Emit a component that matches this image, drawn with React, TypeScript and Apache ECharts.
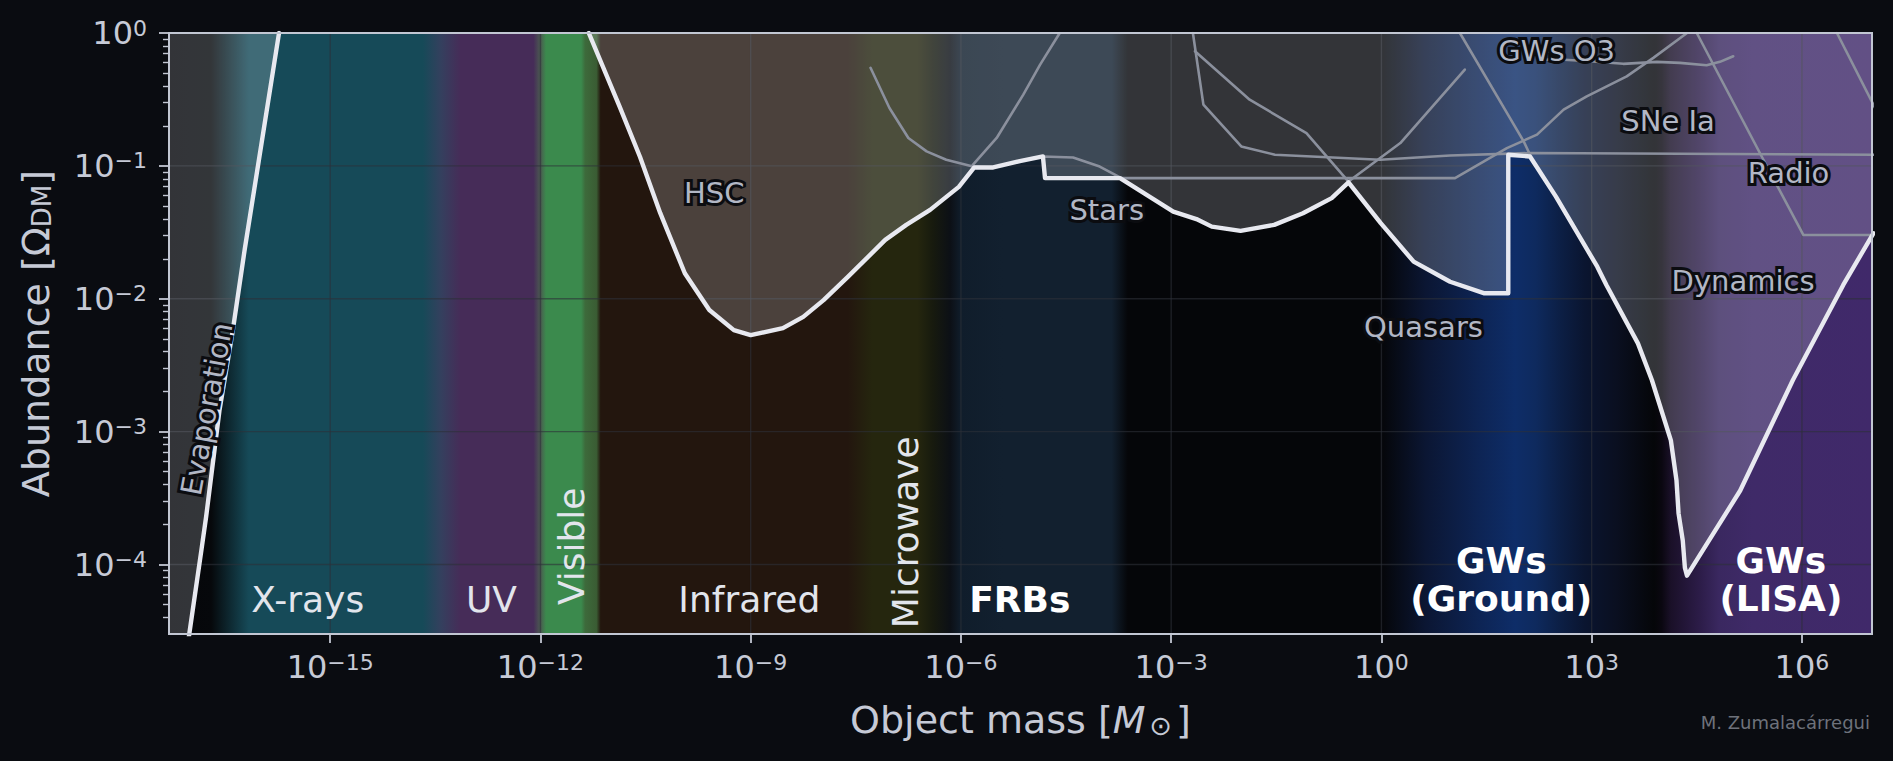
import React, { useEffect, useRef } from 'react';
import * as echarts from 'echarts';

// ---------- axis ranges (log10 units) ----------
const X_MIN = -17.3; // log10(5e-18 M_sun)
const X_MAX = 7;     // log10(1e7 M_sun)
const Y_MIN = Math.log10(3e-5);
const Y_MAX = 0;

// ---------- tick positions (log10) ----------
const xMajorExps = [-15, -12, -9, -6, -3, 0, 3, 6];
const yMajorExps = [-4, -3, -2, -1, 0];
const yMinorExps: number[] = [];
for (let n = -5; n < 0; n++) {
  for (let k = 2; k <= 9; k++) {
    const v = n + Math.log10(k);
    if (v > Y_MIN && v < Y_MAX) yMinorExps.push(v);
  }
}

// ---------- combined bound (thick white), [log10 M, log10 Omega] ----------
const evaporationBound = [
  [-17.3, -5.6], [-17.01, -4.52], [-16.84, -3.9], [-16.77, -3.64], [-16.58, -2.84],
  [-16.39, -2.24], [-16.22, -1.63], [-15.73, 0.0],
];
const combinedBound = [
  [-11.31, 0.0], [-10.87, -0.554], [-10.58, -0.931], [-10.29, -1.356], [-9.94, -1.808],
  [-9.59, -2.085], [-9.24, -2.236], [-9.0, -2.274], [-8.54, -2.221], [-8.25, -2.136],
  [-7.96, -2.01], [-7.61, -1.834], [-7.08, -1.557], [-6.78, -1.444], [-6.44, -1.331],
  [-6.03, -1.158], [-5.81, -1.012], [-5.54, -1.012], [-5.16, -0.964], [-4.83, -0.929],
  [-4.8, -1.092], [-3.73, -1.092], [-3.35, -1.218], [-2.97, -1.344], [-2.64, -1.40],
  [-2.42, -1.457], [-2.01, -1.489], [-1.53, -1.444], [-1.12, -1.356], [-0.71, -1.243],
  [-0.47, -1.124], [-0.01, -1.431], [0.46, -1.721], [0.98, -1.872], [1.47, -1.959],
  [1.81, -1.959], [1.81, -0.916], [2.12, -0.929], [2.49, -1.231], [3.08, -1.759],
  [3.21, -1.896], [3.66, -2.336], [3.86, -2.613], [4.13, -3.066], [4.21, -3.366],
  [4.24, -3.616], [4.3, -3.82], [4.33, -4.023], [4.36, -4.084], [5.12, -3.443],
  [5.87, -2.613], [6.59, -1.896], [7.02, -1.507],
];

// ---------- individual constraints (thin grey) ----------
const lensingA = [
  [-7.29, -0.262], [-7.02, -0.564], [-6.75, -0.79], [-6.49, -0.891], [-6.21, -0.954],
  [-5.83, -1.005], [-5.54, -1.012], [-5.16, -0.964], [-4.83, -0.929], [-4.4, -0.937],
  [-4.02, -1.005], [-3.73, -1.087],
];
const hscUpper = [[-5.83, -0.992], [-5.49, -0.79], [-5.11, -0.464], [-4.87, -0.238], [-4.59, 0.0]];
const starsFlat = [
  [-4.8, -1.092], [1.05, -1.092], [1.79, -0.866], [2.22, -0.765], [2.6, -0.577],
  [2.93, -0.477], [3.5, -0.326], [3.88, -0.187], [4.36, 0.0],
];
const lineD = [
  [-2.69, 0.0], [-2.54, -0.539], [-2.0, -0.854], [-1.52, -0.916], [-0.02, -0.954],
  [0.98, -0.922], [2.12, -0.903], [7.05, -0.916],
];
const quasarsUpper = [[-2.66, -0.137], [-1.88, -0.502], [-1.07, -0.753], [-0.47, -1.118]];
const lineG = [[-0.47, -1.118], [0.27, -0.828], [1.19, -0.275]];
const lineH = [[1.12, 0.0], [2.03, -0.816], [2.12, -0.916]];
const gwsO3 = [
  [2.34, -0.2], [2.55, -0.2], [2.97, -0.213], [3.45, -0.232], [3.93, -0.217],
  [4.26, -0.225], [4.64, -0.243], [4.83, -0.217], [5.02, -0.175],
];
const radio = [[4.5, 0.0], [5.4, -0.903], [6.02, -1.52], [7.05, -1.52]];
const lineL = [[6.5, 0.0], [7.05, -0.57]];
const thinLines = [lensingA, hscUpper, starsFlat, lineD, quasarsUpper, lineG, lineH, gwsO3, radio, lineL];

// ---------- labels ----------
const constraintLabels = [
  { text: 'Evaporation', m: -16.76, f: -2.83, rot: 79.4 },
  { text: 'HSC', m: -9.52, f: -1.205, rot: 0 },
  { text: 'Stars', m: -3.92, f: -1.331, rot: 0 },
  { text: 'Quasars', m: 0.6, f: -2.211, rot: 0 },
  { text: 'GWs O3', m: 2.5, f: -0.137, rot: 0 },
  { text: 'SNe Ia', m: 4.09, f: -0.665, rot: 0 },
  { text: 'Radio', m: 5.81, f: -1.054, rot: 0 },
  { text: 'Dynamics', m: 5.16, f: -1.869, rot: 0 },
];
const bandLabels = [
  { text: 'X-rays', m: -15.32, f: -4.265, rot: 0, bold: false },
  { text: 'UV', m: -12.7, f: -4.265, rot: 0, bold: false },
  { text: 'Visible', m: -11.56, f: -3.863, rot: 90, bold: false },
  { text: 'Infrared', m: -9.02, f: -4.265, rot: 0, bold: false },
  { text: 'Microwave', m: -6.79, f: -3.757, rot: 90, bold: false },
  { text: 'FRBs', m: -5.16, f: -4.265, rot: 0, bold: true },
  { text: 'GWs\n(Ground)', m: 1.71, f: -4.115, rot: 0, bold: true },
  { text: 'GWs\n(LISA)', m: 5.7, f: -4.115, rot: 0, bold: true },
];

// ---------- spectrum background colours, [log10 M, colour] ----------
const spectrumStops: [number, string][] = [
  [-17.3, '#050609'], [-16.7, '#06080b'], [-16.16, '#164a58'], [-13.68, '#164a58'],
  [-13.42, '#34405e'], [-13.14, '#462c58'], [-12.1, '#462c58'], [-12.0, '#4a5a50'],
  [-11.92, '#3b8a4d'], [-11.42, '#3b8a4d'], [-11.36, '#3d6a3b'], [-11.2, '#3a5c33'],
  [-11.14, '#23160e'], [-7.62, '#23160e'], [-7.26, '#25260e'], [-6.62, '#25260e'],
  [-6.4, '#171a0e'], [-6.15, '#0c1016'], [-6.0, '#101d2b'], [-5.4, '#12202f'],
  [-3.85, '#12202f'], [-3.62, '#050609'], [0.0, '#050609'], [0.63, '#0b1633'],
  [1.39, '#0d2454'], [1.91, '#0e2d68'], [2.2, '#0e2a5e'], [2.55, '#0c1f45'],
  [2.9, '#0a1530'], [3.36, '#0a0f20'], [3.89, '#050609'], [4.0, '#0a0710'],
  [4.13, '#1a1028'], [4.54, '#2c1c48'], [4.82, '#3a2860'], [5.3, '#3f2a68'], [7.0, '#40296a'],
];

// ---------- styles ----------
const FONT = "'DejaVu Sans', 'Noto Sans', sans-serif";
const PAGE_BG = '#0a0c11';
const AX = '#c2c7d3';
const AX_TEXT = '#c6cad6';
const GRID = 'rgba(45,48,56,0.6)';
const FILL = 'rgba(235,238,246,0.2)';
const WHITE_LINE = '#e8e9f0';
const GREY_LINE = '#8b909d';

const fmtExp = (v: number) => {
  const e = Math.round(v);
  const s = e < 0 ? '\u2212' + Math.abs(e) : String(e);
  return `10{sup|${s}}`;
};

export default function App() {
  const ref = useRef<HTMLDivElement>(null);

  useEffect(() => {
    if (!ref.current) return;
    const chart = echarts.init(ref.current, undefined, { renderer: 'svg' });

    const supRich = {
      sup: { fontSize: 22, lineHeight: 14, verticalAlign: 'top', color: AX_TEXT, fontFamily: FONT },
    };

    const renderBackground = (_params: any, api: any) => {
      const tl = api.coord([X_MIN, Y_MAX]);
      const br = api.coord([X_MAX, Y_MIN]);
      const stops = spectrumStops.map(([m, c]) => ({
        offset: Math.min(1, Math.max(0, (m - X_MIN) / (X_MAX - X_MIN))),
        color: c,
      }));
      const children: any[] = [
        {
          type: 'rect',
          shape: { x: tl[0], y: tl[1], width: br[0] - tl[0], height: br[1] - tl[1] },
          style: { fill: new echarts.graphic.LinearGradient(0, 0, 1, 0, stops) },
        },
      ];
      xMajorExps.forEach((v) => {
        const x = api.coord([v, Y_MIN])[0];
        children.push({ type: 'line', shape: { x1: x, y1: tl[1], x2: x, y2: br[1] }, style: { stroke: GRID, lineWidth: 1.4 } });
      });
      yMajorExps.forEach((v) => {
        const y = api.coord([X_MIN, v])[1];
        children.push({ type: 'line', shape: { x1: tl[0], y1: y, x2: br[0], y2: y }, style: { stroke: GRID, lineWidth: 1.4 } });
      });
      return { type: 'group', children };
    };

    const renderFrame = (_params: any, api: any) => {
      const tl = api.coord([X_MIN, Y_MAX]);
      const br = api.coord([X_MAX, Y_MIN]);
      return {
        type: 'rect',
        shape: { x: tl[0], y: tl[1], width: br[0] - tl[0], height: br[1] - tl[1] },
        style: { fill: 'none', stroke: AX, lineWidth: 2 },
      };
    };

    const renderConstraintLabel = (params: any, api: any) => {
      const l = constraintLabels[params.dataIndex];
      const p = api.coord([l.m, l.f]);
      return {
        type: 'text',
        x: p[0],
        y: p[1],
        rotation: (l.rot * Math.PI) / 180,
        style: {
          text: l.text,
          fill: '#b2b7c5',
          stroke: '#0b0c10',
          lineWidth: 6,
          fontSize: 29,
          fontFamily: FONT,
          align: 'center',
          verticalAlign: 'middle',
          textAlign: 'center',
          textVerticalAlign: 'middle',
        },
      };
    };

    const renderBandLabel = (params: any, api: any) => {
      const l = bandLabels[params.dataIndex];
      const p = api.coord([l.m, l.f]);
      return {
        type: 'text',
        x: p[0],
        y: p[1],
        rotation: (l.rot * Math.PI) / 180,
        style: {
          text: l.text,
          fill: l.bold ? '#ffffff' : '#e2e5ec',
          fontSize: 36,
          fontWeight: l.bold ? 'bold' : 'normal',
          fontFamily: FONT,
          lineHeight: 38,
          align: 'center',
          verticalAlign: 'middle',
          textAlign: 'center',
          textVerticalAlign: 'middle',
        },
      };
    };

    const series: any[] = [
      {
        type: 'custom',
        renderItem: renderBackground,
        data: [[X_MIN, Y_MIN]],
        z: 0,
        silent: true,
      },
      ...[evaporationBound, combinedBound].map((d) => ({
        type: 'line',
        data: d,
        symbol: 'none',
        lineStyle: { width: 0, opacity: 0 },
        areaStyle: { color: FILL, origin: 'end', opacity: 1 },
        z: 1,
        silent: true,
      })),
      ...thinLines.map((d) => ({
        type: 'line',
        data: d,
        symbol: 'none',
        lineStyle: { color: GREY_LINE, width: 2.6, join: 'round', cap: 'round' },
        z: 2,
        silent: true,
      })),
      ...[evaporationBound, combinedBound].map((d) => ({
        type: 'line',
        data: d,
        symbol: 'none',
        lineStyle: { color: WHITE_LINE, width: 4.4, join: 'round', cap: 'round' },
        z: 3,
        silent: true,
      })),
      {
        type: 'custom',
        renderItem: renderBandLabel,
        data: bandLabels.map((l, i) => [l.m, l.f, i]),
        z: 4,
        silent: true,
      },
      {
        type: 'custom',
        renderItem: renderConstraintLabel,
        data: constraintLabels.map((l, i) => [l.m, l.f, i]),
        z: 5,
        silent: true,
      },
      {
        type: 'custom',
        renderItem: renderFrame,
        data: [[X_MIN, Y_MIN]],
        z: 6,
        silent: true,
      },
    ];

    chart.setOption({
      animation: false,
      backgroundColor: PAGE_BG,
      grid: { left: 169, right: 21, top: 33, bottom: 127, containLabel: false },
      xAxis: [
        {
          type: 'value',
          min: X_MIN,
          max: X_MAX,
          position: 'bottom',
          axisLine: { show: false, onZero: false },
          splitLine: { show: false },
          axisTick: { show: true, customValues: xMajorExps, length: 9, lineStyle: { color: AX, width: 1.8 } },
          axisLabel: {
            customValues: xMajorExps,
            formatter: fmtExp,
            margin: 17,
            color: AX_TEXT,
            fontSize: 32,
            fontFamily: FONT,
            rich: supRich,
          },
          name: 'Object mass [{i|M}{s|\u2299}]',
          nameLocation: 'middle',
          nameGap: 67,
          nameTextStyle: {
            color: AX_TEXT,
            fontSize: 38,
            fontFamily: FONT,
            rich: {
              i: { fontStyle: 'italic', fontSize: 38, color: AX_TEXT, fontFamily: FONT },
              s: { fontSize: 27, lineHeight: 20, verticalAlign: 'bottom', color: AX_TEXT, fontFamily: FONT, padding: [0, 4, 0, 4] },
            },
          },
        },
      ],
      yAxis: [
        {
          type: 'value',
          min: Y_MIN,
          max: Y_MAX,
          position: 'left',
          axisLine: { show: false, onZero: false },
          splitLine: { show: false },
          axisTick: { show: true, customValues: yMajorExps, length: 10, lineStyle: { color: AX, width: 1.8 } },
          axisLabel: {
            customValues: yMajorExps,
            formatter: fmtExp,
            margin: 22,
            color: AX_TEXT,
            fontSize: 32,
            fontFamily: FONT,
            rich: supRich,
          },
          name: 'Abundance [\u03A9{d|DM}]',
          nameLocation: 'middle',
          nameRotate: 90,
          nameGap: 114,
          nameTextStyle: {
            color: AX_TEXT,
            fontSize: 38,
            fontFamily: FONT,
            rich: {
              d: { fontSize: 26, lineHeight: 26, verticalAlign: 'bottom', color: AX_TEXT, fontFamily: FONT },
            },
          },
        },
        {
          type: 'value',
          min: Y_MIN,
          max: Y_MAX,
          position: 'left',
          axisLine: { show: false, onZero: false },
          splitLine: { show: false },
          axisLabel: { show: false },
          axisTick: { show: true, customValues: yMinorExps, length: 6, lineStyle: { color: AX, width: 1.4 } },
        },
      ],
      graphic: [
        {
          type: 'text',
          right: 23,
          top: 713,
          style: { text: 'M. Zumalac\u00e1rregui', fill: '#6e727b', fontSize: 18, fontFamily: FONT },
        },
      ],
      series,
    });

    return () => chart.dispose();
  }, []);

  return (
    <div
      ref={ref}
      style={{ position: 'fixed', left: 0, top: 0, width: '1893px', height: '761px', background: PAGE_BG }}
    />
  );
}
